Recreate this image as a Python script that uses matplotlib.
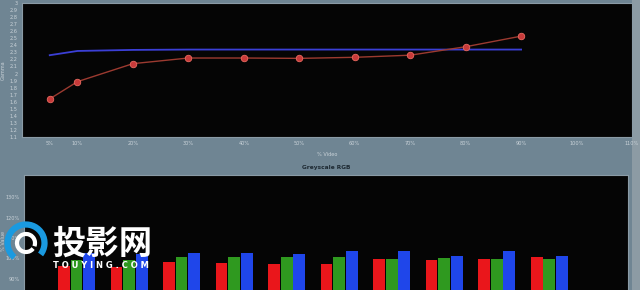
"""Gamma curve and greyscale RGB balance, screenshot-style recreation."""

import matplotlib

matplotlib.use("Agg")
import matplotlib.pyplot as plt
import numpy as np
from matplotlib.patches import Arc, Rectangle

# gamma chart
video_levels = [5, 10, 20, 30, 40, 50, 60, 70, 80, 90]
gamma_measured = [1.64, 1.885, 2.14, 2.22, 2.22, 2.215, 2.23, 2.26, 2.38, 2.53]
gamma_target = [2.26, 2.32, 2.335, 2.34, 2.34, 2.34, 2.34, 2.34, 2.34, 2.34]
x_ticks = [5, 10, 20, 30, 40, 50, 60, 70, 80, 90, 100, 110]
y_ticks = [round(1.1 + 0.1 * i, 1) for i in range(20)]

# greyscale RGB balance (percent)
groups = [1, 2, 3, 4, 5, 6, 7, 8, 9, 10]
red_pct = [96.0, 95.5, 98.2, 97.5, 97.0, 97.2, 99.7, 99.0, 99.8, 100.8]
green_pct = [99.0, 99.0, 100.5, 100.5, 100.8, 100.5, 99.8, 100.3, 99.8, 99.8]
blue_pct = [102.6, 102.0, 102.6, 102.6, 102.1, 103.8, 103.8, 101.0, 103.4, 101.3]
rgb_ticks = [90, 100, 110, 120, 130]

BG = "#6f8593"
PLOT_BG = "#050505"
TXT = "#c9d2d8"
EDGE = "#8b9ba6"

fig = plt.figure(figsize=(6.4, 2.9), dpi=100, facecolor=BG)
# lighter window edge on the right
fig.add_artist(Rectangle((0.988, 0), 0.012, 1, transform=fig.transFigure,
                         facecolor="#8c9ba4", edgecolor="none", zorder=0))

ax = fig.add_axes([0.0344, 0.5276, 0.9531, 0.462], facecolor=PLOT_BG)
ax.plot(video_levels, gamma_target, color="#3b3fd6", lw=1.3, zorder=2)
ax.plot(video_levels, gamma_measured, color="#9c3a30", lw=1.0, zorder=3)
ax.scatter(video_levels, gamma_measured, s=22, color="#c83a3a",
           edgecolors="#e86a60", linewidths=0.6, zorder=4)
ax.set_xlim(0, 110)
ax.set_ylim(1.1, 3.0)
ax.set_xticks(x_ticks, [f"{v}%" for v in x_ticks])
ax.set_yticks(y_ticks, [f"{v:g}" for v in y_ticks])
ax.tick_params(colors=TXT, labelsize=3.6, length=0, pad=3)
ax.set_xlabel("% Video", color=TXT, fontsize=3.6, labelpad=4)
ax.set_ylabel("Gamma", color=TXT, fontsize=3.6, labelpad=3)
for sp in ax.spines.values():
    sp.set_color(EDGE)
    sp.set_linewidth(0.8)

ax2 = fig.add_axes([0.0375, -0.1424, 0.94375, 0.539], facecolor=PLOT_BG)
x = np.array(groups)
w = 0.225
ax2.bar(x - 0.24, red_pct, w, color="#ea161b", zorder=2)
ax2.bar(x, green_pct, w, color="#2f991f", zorder=2)
ax2.bar(x + 0.24, blue_pct, w, color="#1f46ea", zorder=2)
ax2.set_xlim(0, 11.5)
ax2.set_ylim(64, 141)
ax2.set_xticks([])
ax2.set_yticks(rgb_ticks, [f"{v}%" for v in rgb_ticks])
ax2.tick_params(colors=TXT, labelsize=3.6, length=0, pad=3)
ax2.set_ylabel("% Value", color=TXT, fontsize=3.6)
ax2.yaxis.set_label_coords(-0.03, 0.58)
ax2.set_title("Greyscale RGB", color="#1e2a33", fontsize=4.2,
              fontweight="bold", pad=4)
for sp in ax2.spines.values():
    sp.set_color(EDGE)
    sp.set_linewidth(0.8)

# site watermark
cx, cy = 26 / 640, 1 - 243 / 290
fig.add_artist(Arc((cx, cy), 37 / 640, 37 / 290, theta1=-60, theta2=250,
                   transform=fig.transFigure, color="#1a9ae0", lw=4.5))
fig.add_artist(Arc((cx, cy), 18 / 640, 18 / 290, theta1=-40, theta2=300,
                   transform=fig.transFigure, color="white", lw=3.0))
fig.text(52 / 640, 1 - 244 / 290, "投影网", color="white", fontsize=24,
         fontweight="bold", va="center", ha="left",
         family=["Noto Sans CJK SC", "DejaVu Sans"])
fig.text(53 / 640, 1 - 266 / 290, "T O U Y I N G . C O M", color="white",
         fontsize=6, fontweight="bold", va="center", ha="left")

fig.savefig("out.png", dpi=100, facecolor=BG)
